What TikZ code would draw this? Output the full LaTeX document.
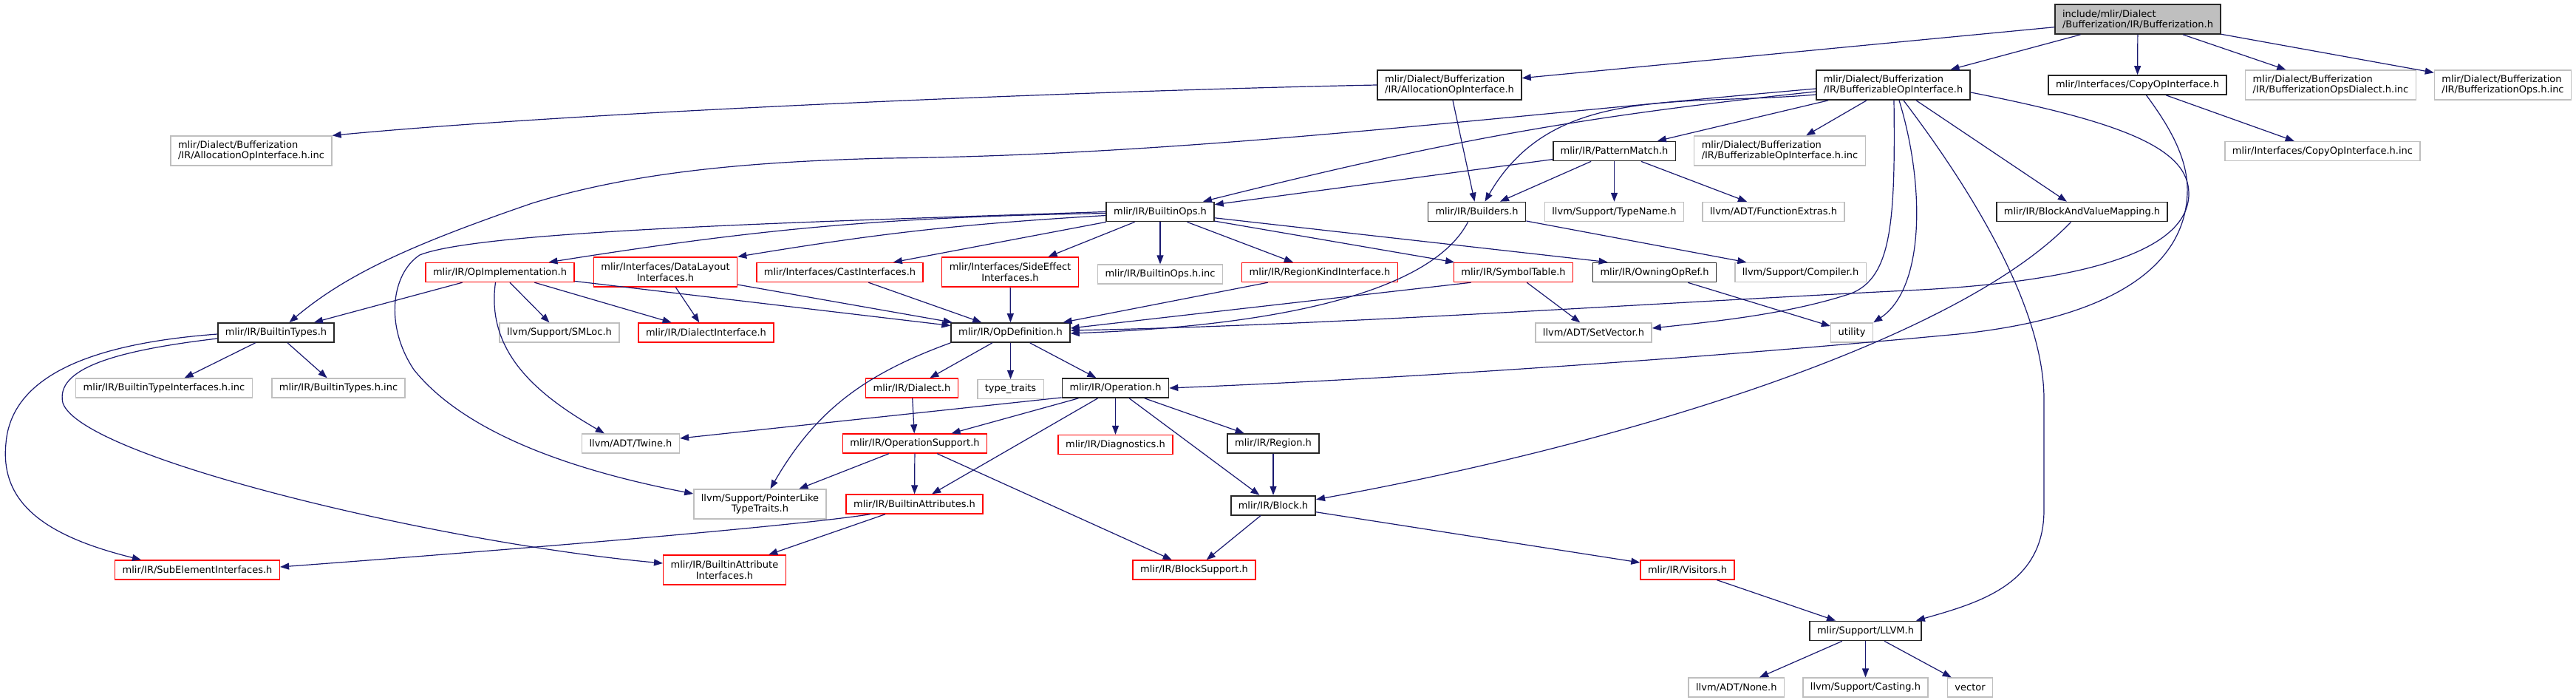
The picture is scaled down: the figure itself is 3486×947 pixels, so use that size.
\documentclass[tikz,border=0pt]{standalone}
\usepackage{fontspec}
\setmainfont{DejaVu Sans}
\usepackage{tikz}
\usetikzlibrary{arrows.meta,positioning}
\definecolor{edgeblue}{HTML}{191970}
\definecolor{boxgray}{HTML}{BFBFBF}

\begin{document}
\begin{tikzpicture}[
            x=1pt,y=1pt,
            file/.style={draw,rectangle,fill=white,inner xsep=10pt,inner ysep=3pt,
                         minimum height=26pt,font=\fontsize{13}{14.5}\selectfont},
            known/.style={file,draw=black!85,line width=1.7pt},
            ext/.style={file,draw=boxgray,line width=1.4pt},
            cut/.style={file,draw=red,line width=1.4pt},
            two/.style={minimum height=40pt,align=left},
            twoc/.style={minimum height=40pt,align=center},
            line/.style={-{Triangle[length=12pt,width=9pt]},line width=1.2pt,draw=edgeblue}
        ]
        \fill[white] (0,0) rectangle (3486,-947);
        \useasboundingbox (0,0) rectangle (3486,-947);
        % header and its direct includes
        \node[known,fill=boxgray,two] (bufh) at (2893,-26) {include/mlir/Dialect\\/Bufferization/IR/Bufferization.h};
        \node[known,two] (alloc) at (1961.5,-115) {mlir/Dialect/Bufferization\\/IR/AllocationOpInterface.h};
        \node[known,two] (bufop) at (2562,-115) {mlir/Dialect/Bufferization\\/IR/BufferizableOpInterface.h};
        \node[known] (copyop) at (2892.5,-115) {mlir/Interfaces/CopyOpInterface.h};
        \node[ext,two] (opsdialinc) at (3154,-115) {mlir/Dialect/Bufferization\\/IR/BufferizationOpsDialect.h.inc};
        \node[ext,two] (opsinc) at (3387,-115) {mlir/Dialect/Bufferization\\/IR/BufferizationOps.h.inc};
        % second level
        \node[ext,two] (allocinc) at (340,-204) {mlir/Dialect/Bufferization\\/IR/AllocationOpInterface.h.inc};
        \node[known] (patmatch) at (2184.5,-204.5) {mlir/IR/PatternMatch.h};
        \node[ext,two] (bufopinc) at (2408.5,-204) {mlir/Dialect/Bufferization\\/IR/BufferizableOpInterface.h.inc};
        \node[ext] (copyinc) at (3143,-204.5) {mlir/Interfaces/CopyOpInterface.h.inc};
        \node[known] (builtinops) at (1570,-286.5) {mlir/IR/BuiltinOps.h};
        \node[known] (builders) at (1998.5,-286.5) {mlir/IR/Builders.h};
        \node[ext] (typename) at (2184.5,-286.5) {llvm/Support/TypeName.h};
        \node[ext, right=24pt of typename] (funcext) {llvm/ADT/FunctionExtras.h};
        \node[known] (bavm) at (2817.5,-286.5) {mlir/IR/BlockAndValueMapping.h};
        % row below BuiltinOps
        \node[cut] (opimpl) at (676.5,-368.5) {mlir/IR/OpImplementation.h};
        \node[cut,twoc] (datalayout) at (900.5,-368) {mlir/Interfaces/DataLayout\\Interfaces.h};
        \node[cut] (castif) at (1136.5,-368.5) {mlir/Interfaces/CastInterfaces.h};
        \node[cut,twoc] (sideeff) at (1367,-368) {mlir/Interfaces/SideEffect\\Interfaces.h};
        \node[ext, below=57pt of builtinops] (builtinopsinc) {mlir/IR/BuiltinOps.h.inc};
        \node[cut] (regionkind) at (1786,-368.5) {mlir/IR/RegionKindInterface.h};
        \node[cut] (symtab) at (2048,-368.5) {mlir/IR/SymbolTable.h};
        \node[known] (owning) at (2239,-368.5) {mlir/IR/OwningOpRef.h};
        \node[ext] (compiler) at (2436.5,-368.5) {llvm/Support/Compiler.h};
        \node[known] (builtintypes) at (373.5,-450) {mlir/IR/BuiltinTypes.h};
        \node[ext] (smloc) at (757,-450) {llvm/Support/SMLoc.h};
        \node[cut] (dialiface) at (955.5,-450) {mlir/IR/DialectInterface.h};
        \node[known] (opdef) at (1367.5,-450) {mlir/IR/OpDefinition.h};
        \node[ext] (setvec) at (2156.5,-450) {llvm/ADT/SetVector.h};
        \node[ext] (utility) at (2506,-450) {utility};
        % Operation level
        \node[ext] (btiinc) at (222,-525) {mlir/IR/BuiltinTypeInterfaces.h.inc};
        \node[ext] (btinc) at (458,-525) {mlir/IR/BuiltinTypes.h.inc};
        \node[cut] (dialect) at (1234,-525) {mlir/IR/Dialect.h};
        \node[ext, below=49pt of opdef] (typetraits) {type\_traits};
        \node[known] (operation) at (1509.5,-525) {mlir/IR/Operation.h};
        \node[ext] (twine) at (853.5,-600) {llvm/ADT/Twine.h};
        \node[cut] (opsupport) at (1238,-600) {mlir/IR/OperationSupport.h};
        \node[cut, below=49pt of operation] (diag) {mlir/IR/Diagnostics.h};
        \node[known] (region) at (1723,-600) {mlir/IR/Region.h};
        \node[ext,twoc] (ptrlike) at (1028.5,-682) {llvm/Support/PointerLike\\TypeTraits.h};
        \node[cut] (battr) at (1237.5,-682) {mlir/IR/BuiltinAttributes.h};
        \node[known, below=56pt of region] (block) {mlir/IR/Block.h};
        \node[cut] (subelem) at (267,-771) {mlir/IR/SubElementInterfaces.h};
        \node[cut,twoc] (battriface) at (980.5,-771) {mlir/IR/BuiltinAttribute\\Interfaces.h};
        \node[cut] (blksupp) at (1616,-771) {mlir/IR/BlockSupport.h};
        \node[cut] (visitors) at (2283.5,-771) {mlir/IR/Visitors.h};
        \node[known] (llvmh) at (2524.5,-853.5) {mlir/Support/LLVM.h};
        \node[ext, below=49pt of llvmh] (casting) {llvm/Support/Casting.h};
        \node[ext, left=24pt of casting] (none) {llvm/ADT/None.h};
        \node[ext, right=25pt of casting] (vector) {vector};

        % from the header
        \draw[line] (bufh) -- (alloc);
        \draw[line] (bufh) -- (bufop);
        \draw[line] (bufh) -- (copyop);
        \draw[line] (bufh) -- (opsdialinc);
        \draw[line] (bufh) -- (opsinc);
        % AllocationOpInterface
        \draw[line] (alloc.west) .. controls (1500,-122) and (800,-150) .. (allocinc.north east);
        \draw[line] (alloc) -- (builders);
        % BufferizableOpInterface
        \draw[line] (bufop) -- (patmatch);
        \draw[line] (bufop) -- (bufopinc);
        \draw[line] (bufop) -- (bavm);
        \draw[line] ([yshift=-13pt]bufop.west) to[out=185,in=60] ([xshift=11pt]builders.north);
        \draw[line] ([yshift=-9pt]bufop.west) to[out=186,in=14] ([xshift=58pt]builtinops.north);
        \draw[line] ([yshift=-5pt]bufop.west) .. controls (2000,-160) and (1600,-210) .. (1200,-214)
            .. controls (1000,-219) and (850,-235) .. (720,-275)
            .. controls (560,-330) and (470,-370) .. ([xshift=18pt]builtintypes.north);
        \draw[line] ([xshift=1pt]bufop.south) .. controls (2565,-300) and (2560,-375) .. (2505,-397)
            .. controls (2420,-425) and (2320,-435) .. ([yshift=6pt]setvec.east);
        \draw[line] ([xshift=8pt]bufop.south) .. controls (2605,-250) and (2605,-390) .. (utility.north east);
        \draw[line] ([xshift=14pt]bufop.south) .. controls (2640,-220) and (2766,-400) .. (2766,-540)
            -- (2766,-690) .. controls (2766,-790) and (2680,-815) .. ([xshift=-8pt]llvmh.north east);
        \draw[line] ([yshift=-10pt]bufop.east) .. controls (2870,-165) and (2962,-200) .. (2962,-262)
            .. controls (2962,-340) and (2820,-380) .. (2600,-392)
            .. controls (2200,-412) and (1800,-440) .. ([yshift=3pt]opdef.east);
        % CopyOpInterface
        \draw[line] (copyop) -- (copyinc);
        \draw[line] ([xshift=12pt]copyop.south) .. controls (2935,-170) and (2962,-215) .. (2960,-262)
            .. controls (2956,-360) and (2860,-430) .. (2650,-452)
            .. controls (2300,-485) and (1900,-512) .. (operation.east);
        % BlockAndValueMapping
        \draw[line] ([xshift=-15pt]bavm.south) .. controls (2650,-460) and (2200,-600) .. ([yshift=8pt]block.east);
        % PatternMatch
        \draw[line] (patmatch) -- (builtinops);
        \draw[line] (patmatch) -- (builders);
        \draw[line] (patmatch) -- (typename);
        \draw[line] (patmatch) -- (funcext);
        % BuiltinOps
        \draw[line] (builtinops.west) .. controls (1100,-300) and (650,-312) .. (568,-345)
            .. controls (530,-370) and (520,-440) .. (560,-500)
            .. controls (640,-600) and (820,-645) .. ([yshift=14pt]ptrlike.west);
        \draw[line] ([yshift=-2pt]builtinops.west) to[bend right=4] ([xshift=66pt]opimpl.north);
        \draw[line] ([yshift=-5pt]builtinops.west) to[bend right=3] (datalayout.north east);
        \draw[line] (builtinops) -- (castif);
        \draw[line] (builtinops) -- (sideeff);
        \draw[line] (builtinops) -- (builtinopsinc);
        \draw[line] (builtinops) -- (regionkind);
        \draw[line] (builtinops) -- (symtab);
        \draw[line] (builtinops) -- ([xshift=21pt]owning.north west);
        % Builders, SymbolTable, OwningOpRef
        \draw[line] ([xshift=-12pt]builders.south) .. controls (1940,-390) and (1750,-440) .. ([yshift=-1pt]opdef.east);
        \draw[line] (builders) -- (compiler);
        \draw[line] ([xshift=24pt]symtab.south west) -- ([yshift=6pt]opdef.east);
        \draw[line] (symtab) -- (setvec);
        \draw[line] (owning) -- (utility);
        % OpImplementation and interfaces
        \draw[line] (opimpl) -- (builtintypes);
        \draw[line] ([xshift=-6pt]opimpl.south) to[out=-98,in=150] ([xshift=31pt]twine.north west);
        \draw[line] (opimpl) -- (smloc);
        \draw[line] (opimpl) -- (dialiface);
        \draw[line] (opimpl) -- (opdef);
        \draw[line] (datalayout) -- (dialiface);
        \draw[line] (datalayout) -- (opdef);
        \draw[line] (castif) -- (opdef);
        \draw[line] (sideeff) -- (opdef);
        \draw[line] (regionkind) -- (opdef);
        % BuiltinTypes
        \draw[line] (builtintypes) -- (btiinc);
        \draw[line] (builtintypes) -- (btinc);
        \draw[line] ([yshift=-2pt]builtintypes.west) .. controls (120,-465) and (15,-510) .. (8,-600)
            .. controls (0,-680) and (60,-725) .. ([xshift=36pt]subelem.north west);
        \draw[line] ([yshift=-8pt]builtintypes.west) .. controls (150,-475) and (75,-500) .. (85,-545)
            .. controls (110,-620) and (600,-735) .. ([yshift=9pt]battriface.west);
        % OpDefinition
        \draw[line] (opdef) -- (dialect);
        \draw[line] (opdef) -- (typetraits);
        \draw[line] (opdef) -- (operation);
        \draw[line] (opdef.south west) to[out=200,in=60] ([xshift=14pt]ptrlike.north);
        % Operation
        \draw[line] ([yshift=1pt]operation.south west) -- ([yshift=7pt]twine.east);
        \draw[line] (operation) -- (opsupport);
        \draw[line] (operation) -- (battr);
        \draw[line] (operation) -- (diag);
        \draw[line] (operation) -- (block);
        \draw[line] (operation) -- (region);
        \draw[line] (region) -- (block);
        \draw[line] (dialect) -- (opsupport);
        % lower levels
        \draw[line] (opsupport) -- (ptrlike);
        \draw[line] (opsupport) -- (battr);
        \draw[line] (opsupport) -- (blksupp);
        \draw[line] (battr) -- (battriface);
        \draw[line] ([xshift=-60pt]battr.south) .. controls (1120,-705) and (900,-728) .. ([yshift=4pt]subelem.east);
        \draw[line] (block) -- (blksupp);
        \draw[line] (block) -- (visitors);
        \draw[line] (visitors) -- (llvmh);
        \draw[line] (llvmh) -- (none);
        \draw[line] (llvmh) -- (casting);
        \draw[line] (llvmh) -- (vector);
\end{tikzpicture}
\end{document}
